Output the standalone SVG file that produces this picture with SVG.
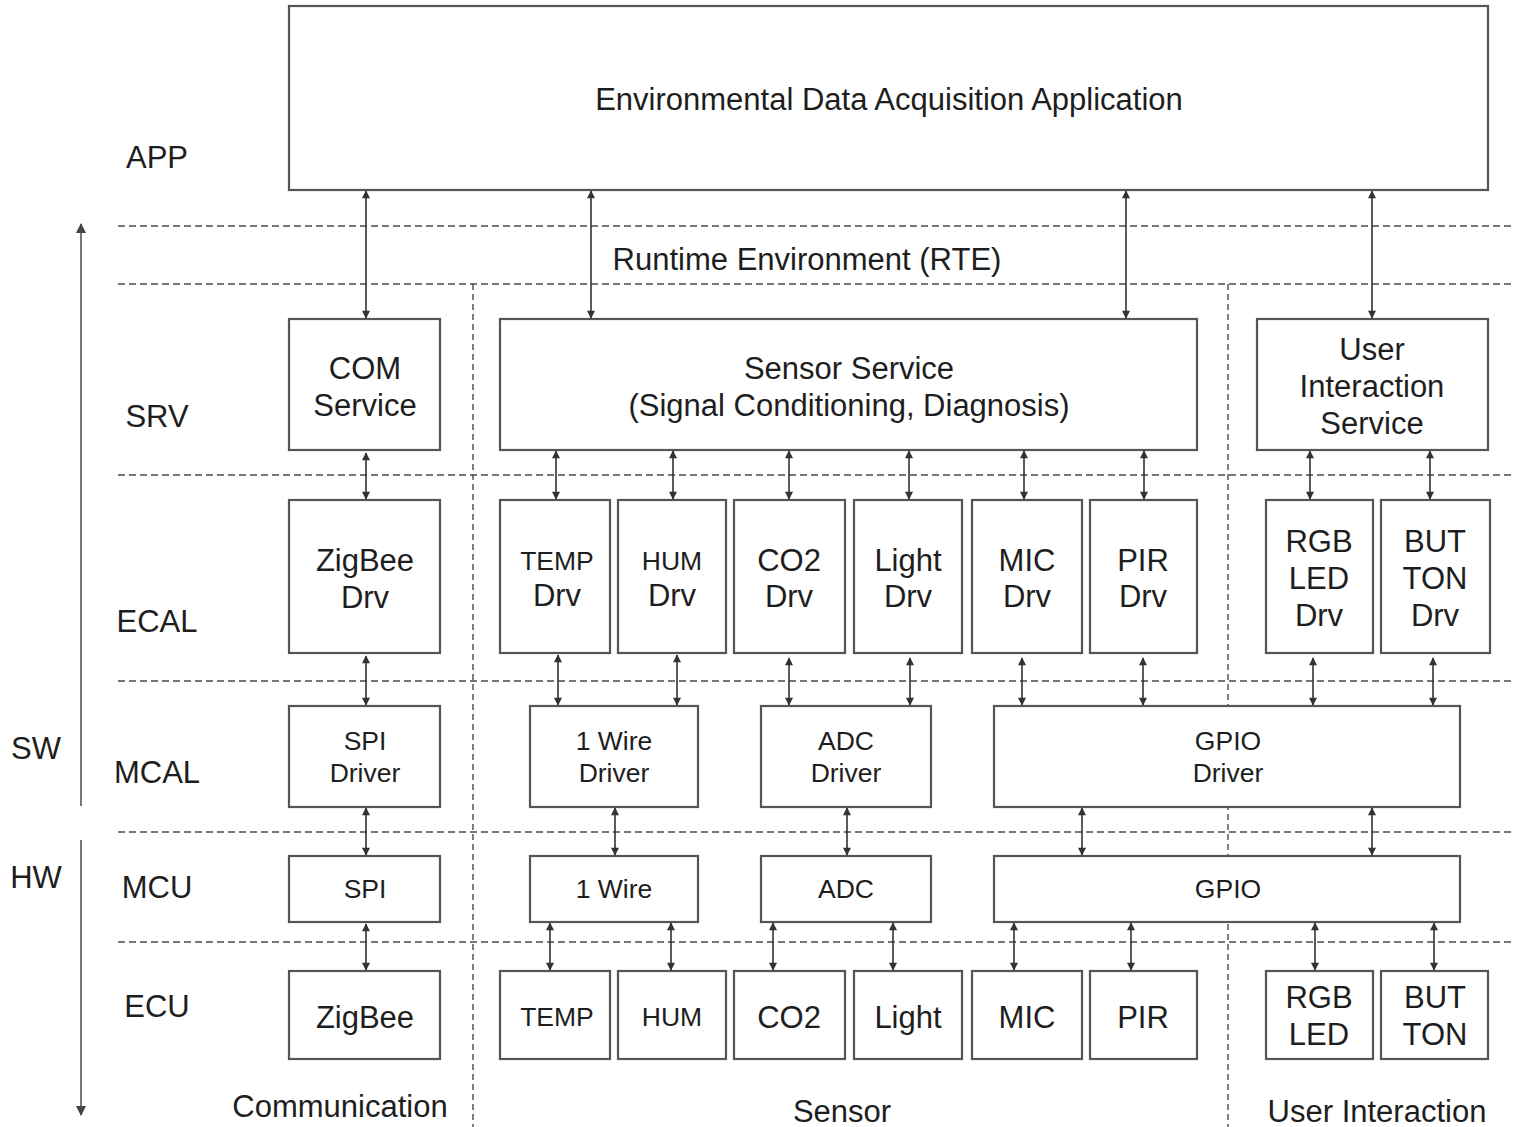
<svg xmlns="http://www.w3.org/2000/svg" width="1514" height="1127" viewBox="0 0 1514 1127">
<defs>
<marker id="ah" viewBox="0 0 10 10" refX="9" refY="5" markerWidth="9" markerHeight="8" markerUnits="userSpaceOnUse" orient="auto-start-reverse">
<path d="M0,0 L10,5 L0,10 z" fill="#333"/>
</marker>
<marker id="ahb" viewBox="0 0 10 10" refX="9" refY="5" markerWidth="10" markerHeight="10" markerUnits="userSpaceOnUse" orient="auto-start-reverse">
<path d="M0,0 L10,5 L0,10 z" fill="#444"/>
</marker>
</defs>
<style>
.bx{fill:#fff;stroke:#555;stroke-width:2.2}
.t{font-family:"Liberation Sans",Arial,sans-serif;font-size:31px;fill:#1e1e1e;text-anchor:middle}
.s{font-family:"Liberation Sans",Arial,sans-serif;font-size:26.5px;fill:#1e1e1e;text-anchor:middle}
.dh{stroke:#4a4a4a;stroke-width:1.4;stroke-dasharray:7 4;fill:none}
.dv{stroke:#4a4a4a;stroke-width:1.4;stroke-dasharray:6 4;fill:none}
.ar{stroke:#333;stroke-width:1.6;fill:none;marker-start:url(#ah);marker-end:url(#ah)}
.ax{stroke:#555;stroke-width:1.6;fill:none}
</style>
<rect width="1514" height="1127" fill="#fff"/>

<g id="layer-lines">
<line class="dh" x1="118" y1="226" x2="1514" y2="226"/>
<line class="dh" x1="118" y1="284" x2="1514" y2="284"/>
<line class="dh" x1="118" y1="475" x2="1514" y2="475"/>
<line class="dh" x1="118" y1="681" x2="1514" y2="681"/>
<line class="dh" x1="118" y1="832" x2="1514" y2="832"/>
<line class="dh" x1="118" y1="942" x2="1514" y2="942"/>
<line class="dv" x1="473" y1="284" x2="473" y2="1127"/>
<line class="dv" x1="1228" y1="284" x2="1228" y2="1127"/>
<line class="ax" x1="81" y1="806" x2="81" y2="224" marker-end="url(#ahb)"/>
<line class="ax" x1="81" y1="840" x2="81" y2="1115" marker-end="url(#ahb)"/>
</g>

<g id="labels">
<text class="t" x="157" y="168">APP</text>
<text class="t" x="157" y="427">SRV</text>
<text class="t" x="157" y="632">ECAL</text>
<text class="t" x="157" y="783">MCAL</text>
<text class="t" x="157" y="898">MCU</text>
<text class="t" x="157" y="1017">ECU</text>
<text class="t" x="36" y="759">SW</text>
<text class="t" x="36" y="888">HW</text>
<text class="t" x="807" y="270">Runtime Environment (RTE)</text>
<text class="t" x="340" y="1117">Communication</text>
<text class="t" x="842" y="1122">Sensor</text>
<text class="t" x="1377" y="1122">User Interaction</text>
</g>

<g id="app"><rect class="bx" x="289" y="6" width="1199" height="184"/><text class="t" x="889" y="110">Environmental Data Acquisition Application</text></g>

<g id="com-service"><rect class="bx" x="289" y="319" width="151" height="131"/><text class="t" x="365" y="379">COM</text><text class="t" x="365" y="416">Service</text></g>
<g id="sensor-service"><rect class="bx" x="500" y="319" width="697" height="131"/><text class="t" x="849" y="379">Sensor Service</text><text class="t" x="849" y="416">(Signal Conditioning, Diagnosis)</text></g>
<g id="ui-service"><rect class="bx" x="1257" y="319" width="231" height="131"/><text class="t" x="1372" y="360">User</text><text class="t" x="1372" y="397">Interaction</text><text class="t" x="1372" y="434">Service</text></g>

<g id="zigbee-drv"><rect class="bx" x="289" y="500" width="151" height="153"/><text class="t" x="365" y="571">ZigBee</text><text class="t" x="365" y="608">Drv</text></g>
<g id="temp-drv"><rect class="bx" x="500" y="500" width="110" height="153"/><text class="s" x="557" y="570">TEMP</text><text class="t" x="557" y="606">Drv</text></g>
<g id="hum-drv"><rect class="bx" x="618" y="500" width="108" height="153"/><text class="s" x="672" y="570">HUM</text><text class="t" x="672" y="606">Drv</text></g>
<g id="co2-drv"><rect class="bx" x="734" y="500" width="111" height="153"/><text class="t" x="789" y="571">CO2</text><text class="t" x="789" y="607">Drv</text></g>
<g id="light-drv"><rect class="bx" x="854" y="500" width="108" height="153"/><text class="t" x="908" y="571">Light</text><text class="t" x="908" y="607">Drv</text></g>
<g id="mic-drv"><rect class="bx" x="972" y="500" width="110" height="153"/><text class="t" x="1027" y="571">MIC</text><text class="t" x="1027" y="607">Drv</text></g>
<g id="pir-drv"><rect class="bx" x="1090" y="500" width="107" height="153"/><text class="t" x="1143" y="571">PIR</text><text class="t" x="1143" y="607">Drv</text></g>
<g id="rgb-drv"><rect class="bx" x="1266" y="500" width="107" height="153"/><text class="t" x="1319" y="552">RGB</text><text class="t" x="1319" y="589">LED</text><text class="t" x="1319" y="626">Drv</text></g>
<g id="button-drv"><rect class="bx" x="1381" y="500" width="109" height="153"/><text class="t" x="1435" y="552">BUT</text><text class="t" x="1435" y="589">TON</text><text class="t" x="1435" y="626">Drv</text></g>

<g id="spi-driver"><rect class="bx" x="289" y="706" width="151" height="101"/><text class="s" x="365" y="750">SPI</text><text class="s" x="365" y="782">Driver</text></g>
<g id="onewire-driver"><rect class="bx" x="530" y="706" width="168" height="101"/><text class="s" x="614" y="750">1 Wire</text><text class="s" x="614" y="782">Driver</text></g>
<g id="adc-driver"><rect class="bx" x="761" y="706" width="170" height="101"/><text class="s" x="846" y="750">ADC</text><text class="s" x="846" y="782">Driver</text></g>
<g id="gpio-driver"><rect class="bx" x="994" y="706" width="466" height="101"/><text class="s" x="1228" y="750">GPIO</text><text class="s" x="1228" y="782">Driver</text></g>

<g id="spi"><rect class="bx" x="289" y="856" width="151" height="66"/><text class="s" x="365" y="898">SPI</text></g>
<g id="onewire"><rect class="bx" x="530" y="856" width="168" height="66"/><text class="s" x="614" y="898">1 Wire</text></g>
<g id="adc"><rect class="bx" x="761" y="856" width="170" height="66"/><text class="s" x="846" y="898">ADC</text></g>
<g id="gpio"><rect class="bx" x="994" y="856" width="466" height="66"/><text class="s" x="1228" y="898">GPIO</text></g>

<g id="zigbee"><rect class="bx" x="289" y="971" width="151" height="88"/><text class="t" x="365" y="1028">ZigBee</text></g>
<g id="temp"><rect class="bx" x="500" y="971" width="110" height="88"/><text class="s" x="557" y="1026">TEMP</text></g>
<g id="hum"><rect class="bx" x="618" y="971" width="108" height="88"/><text class="s" x="672" y="1026">HUM</text></g>
<g id="co2"><rect class="bx" x="734" y="971" width="111" height="88"/><text class="t" x="789" y="1028">CO2</text></g>
<g id="light"><rect class="bx" x="854" y="971" width="108" height="88"/><text class="t" x="908" y="1028">Light</text></g>
<g id="mic"><rect class="bx" x="972" y="971" width="110" height="88"/><text class="t" x="1027" y="1028">MIC</text></g>
<g id="pir"><rect class="bx" x="1090" y="971" width="107" height="88"/><text class="t" x="1143" y="1028">PIR</text></g>
<g id="rgb-led"><rect class="bx" x="1266" y="971" width="107" height="88"/><text class="t" x="1319" y="1008">RGB</text><text class="t" x="1319" y="1045">LED</text></g>
<g id="button"><rect class="bx" x="1381" y="971" width="107" height="88"/><text class="t" x="1435" y="1008">BUT</text><text class="t" x="1435" y="1045">TON</text></g>

<g id="connectors">
<line class="ar" x1="366" y1="191" x2="366" y2="318"/>
<line class="ar" x1="591" y1="191" x2="591" y2="318"/>
<line class="ar" x1="1126" y1="191" x2="1126" y2="318"/>
<line class="ar" x1="1372" y1="191" x2="1372" y2="318"/>

<line class="ar" x1="366" y1="453" x2="366" y2="499"/>
<line class="ar" x1="556" y1="451" x2="556" y2="499"/>
<line class="ar" x1="673" y1="451" x2="673" y2="499"/>
<line class="ar" x1="789" y1="451" x2="789" y2="499"/>
<line class="ar" x1="909" y1="451" x2="909" y2="499"/>
<line class="ar" x1="1024" y1="451" x2="1024" y2="499"/>
<line class="ar" x1="1144" y1="451" x2="1144" y2="499"/>
<line class="ar" x1="1310" y1="451" x2="1310" y2="499"/>
<line class="ar" x1="1430" y1="451" x2="1430" y2="499"/>

<line class="ar" x1="366" y1="656" x2="366" y2="705"/>
<line class="ar" x1="558" y1="655" x2="558" y2="705"/>
<line class="ar" x1="677" y1="655" x2="677" y2="705"/>
<line class="ar" x1="789" y1="658" x2="789" y2="705"/>
<line class="ar" x1="910" y1="658" x2="910" y2="705"/>
<line class="ar" x1="1022" y1="658" x2="1022" y2="705"/>
<line class="ar" x1="1143" y1="658" x2="1143" y2="705"/>
<line class="ar" x1="1313" y1="658" x2="1313" y2="705"/>
<line class="ar" x1="1433" y1="658" x2="1433" y2="705"/>

<line class="ar" x1="366" y1="808" x2="366" y2="855"/>
<line class="ar" x1="615" y1="808" x2="615" y2="855"/>
<line class="ar" x1="847" y1="808" x2="847" y2="855"/>
<line class="ar" x1="1082" y1="808" x2="1082" y2="855"/>
<line class="ar" x1="1372" y1="808" x2="1372" y2="855"/>

<line class="ar" x1="366" y1="924" x2="366" y2="970"/>
<line class="ar" x1="550" y1="923" x2="550" y2="970"/>
<line class="ar" x1="671" y1="923" x2="671" y2="970"/>
<line class="ar" x1="773" y1="923" x2="773" y2="970"/>
<line class="ar" x1="893" y1="923" x2="893" y2="970"/>
<line class="ar" x1="1014" y1="923" x2="1014" y2="970"/>
<line class="ar" x1="1131" y1="923" x2="1131" y2="970"/>
<line class="ar" x1="1315" y1="923" x2="1315" y2="970"/>
<line class="ar" x1="1434" y1="923" x2="1434" y2="970"/>
</g>
</svg>
